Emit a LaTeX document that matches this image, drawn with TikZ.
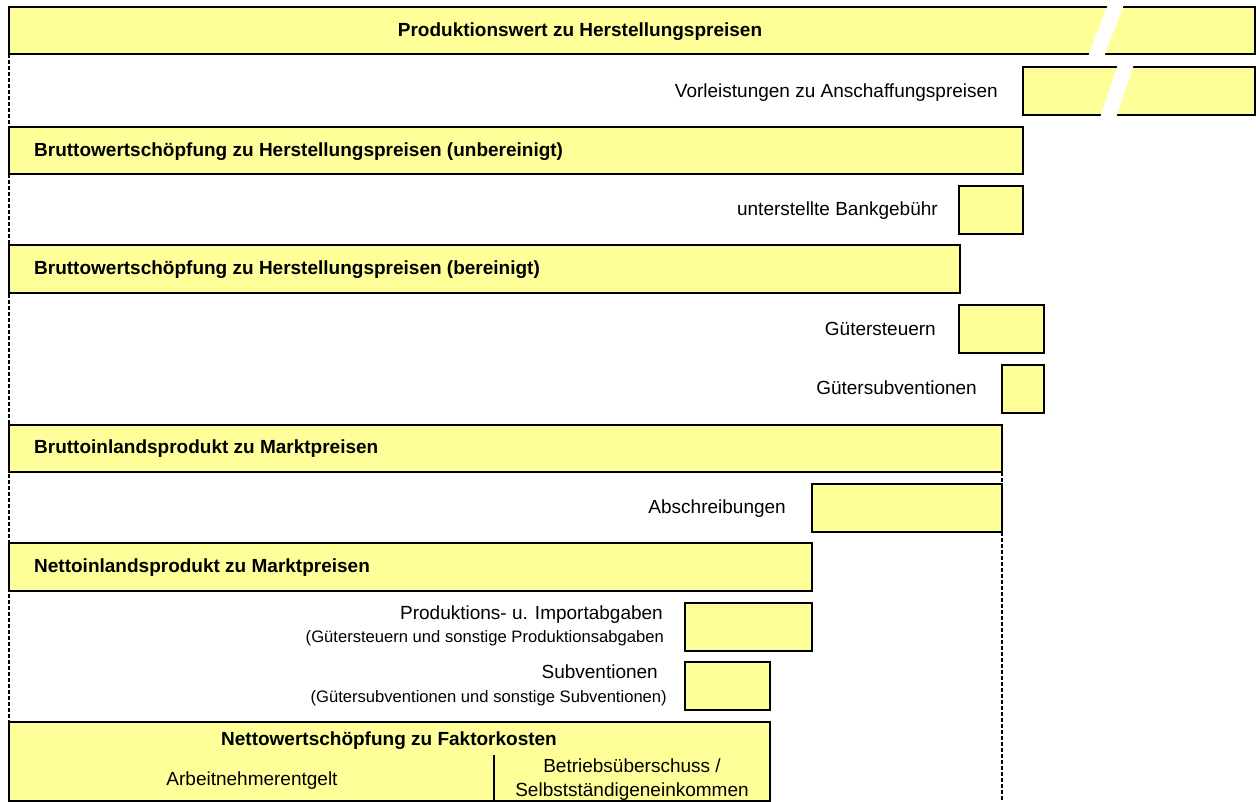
\documentclass[tikz,border=0pt]{standalone}
\usepackage{fontspec}
\setmainfont{Liberation Sans}
\definecolor{ybox}{HTML}{FFFF99}
\tikzset{
  bx/.style={draw=black, line width=2pt, fill=ybox, anchor=north west, inner sep=0pt, outer sep=0pt},
  lbl/.style={inner sep=0pt, font=\fontsize{19}{22}\selectfont},
  ttl/.style={inner sep=0pt, font=\bfseries\fontsize{19}{22}\selectfont},
  sml/.style={inner sep=0pt, font=\fontsize{16.6}{19}\selectfont},
  dash line/.style={line width=1.6pt, dash pattern=on 4pt off 2pt},
  gap/.style={fill=white, draw=none}
}
\begin{document}
\begin{tikzpicture}[x=1pt,y=-1pt]
\useasboundingbox (0,0) rectangle (1256,802);
% dashed guide lines
\coordinate (lt) at (9,54);
\coordinate (lb) at (9,722);
\coordinate (rt) at (1002,472);
\coordinate (rb) at (1002,802);
\draw[dash line] (lt) -- (lb);
\draw[dash line] (rt) -- (rb);
% boxes
\node[bx, minimum width=1246pt, minimum height=47pt] (pw) at (9,7) {};
\node[bx, minimum width=232pt, minimum height=48pt] (vl) at (1023,67) {};
\node[bx, minimum width=1014pt, minimum height=47pt] (bwsu) at (9,127) {};
\node[bx, minimum width=64pt, minimum height=48pt] (bank) at (959,186) {};
\node[bx, minimum width=951pt, minimum height=48pt] (bwsb) at (9,245) {};
\node[bx, minimum width=85pt, minimum height=48pt] (gst) at (959,305) {};
\node[bx, minimum width=42pt, minimum height=48pt] (gsub) at (1002,365) {};
\node[bx, minimum width=993pt, minimum height=47pt] (bip) at (9,425) {};
\node[bx, minimum width=190pt, minimum height=48pt] (abs) at (812,484) {};
\node[bx, minimum width=803pt, minimum height=48pt] (nip) at (9,543) {};
\node[bx, minimum width=127pt, minimum height=48pt] (pia) at (685,603) {};
\node[bx, minimum width=85pt, minimum height=48pt] (sub) at (685,662) {};
\node[bx, minimum width=761pt, minimum height=79pt] (nws) at (9,722) {};
% breaks in top boxes
\fill[gap] (1107.8,5) -- (1123.8,5) -- (1104.2,56) -- (1088.2,56) -- cycle;
\fill[gap] (1117.7,65) -- (1133.7,65) -- (1116.3,117) -- (1100.3,117) -- cycle;
% divider in last box
\coordinate (dvt) at (494,755);
\coordinate (dvb) at (494,801);
\draw[line width=1.6pt] (dvt) -- (dvb);
% texts
\node[ttl, anchor=mid] (t1) at (580,34) {Produktionswert zu Herstellungspreisen};
\node[lbl, anchor=mid east] (t2) at (998,95) {Vorleistungen zu Anschaffungspreisen};
\node[ttl, anchor=mid west] (t3) at (34,154) {Bruttowertschöpfung zu Herstellungspreisen (unbereinigt)};
\node[lbl, anchor=mid east] (t4) at (938,213) {unterstellte Bankgebühr};
\node[ttl, anchor=mid west] (t5) at (34,272) {Bruttowertschöpfung zu Herstellungspreisen (bereinigt)};
\node[lbl, anchor=mid east] (t6) at (936,333) {Gütersteuern};
\node[lbl, anchor=mid east] (t7) at (977,392) {Gütersubventionen};
\node[ttl, anchor=mid west] (t8) at (34,451) {Bruttoinlandsprodukt zu Marktpreisen};
\node[lbl, anchor=mid east] (t9) at (786,511) {Abschreibungen};
\node[ttl, anchor=mid west] (t10) at (34,570) {Nettoinlandsprodukt zu Marktpreisen};
\node[lbl, anchor=mid east] (t11) at (663,617) {Produktions- u. Importabgaben};
\node[sml, anchor=mid east] (t12) at (664,640) {(Gütersteuern und sonstige Produktionsabgaben};
\node[lbl, anchor=mid east] (t13) at (658,676) {Subventionen};
\node[sml, anchor=mid east] (t14) at (667,700) {(Gütersubventionen und sonstige Subventionen)};
\node[ttl, anchor=mid] (t15) at (389,743) {Nettowertschöpfung zu Faktorkosten};
\node[lbl, anchor=mid] (t16) at (252,783) {Arbeitnehmerentgelt};
\node[lbl, anchor=mid] (t17) at (632,770) {Betriebsüberschuss /};
\node[lbl, anchor=mid] (t18) at (632,794) {Selbstständigeneinkommen};
\end{tikzpicture}
\end{document}
